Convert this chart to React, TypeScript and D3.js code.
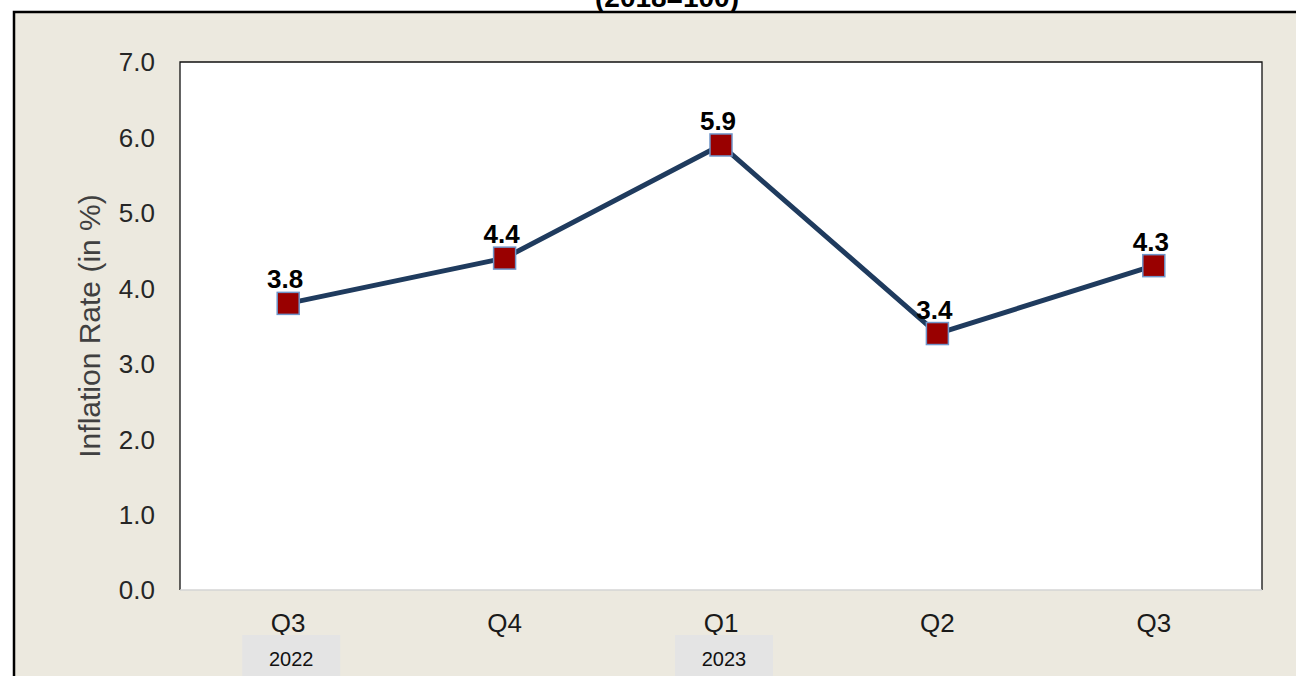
import React from 'react';
import * as d3 from 'd3';

const quarters = ['Q3', 'Q4', 'Q1', 'Q2', 'Q3'];
const inflation = [3.8, 4.4, 5.9, 3.4, 4.3];
const yearLabels = [
  { index: 0, year: '2022' },
  { index: 2, year: '2023' },
];
const yTicks = [0, 1, 2, 3, 4, 5, 6, 7];

const W = 1296;
const H = 676;
const plot = { left: 180, top: 62, right: 1262, bottom: 590 };
const font = '"Liberation Sans", Arial, sans-serif';

const App: React.FC = () => {
  const x = d3.scaleBand<number>()
    .domain(quarters.map((_, i) => i))
    .range([plot.left, plot.right])
    .padding(0);
  const y = d3.scaleLinear().domain([0, 7]).range([plot.bottom, plot.top]);
  const cx = (i: number) => (x(i) as number) + x.bandwidth() / 2;

  const line = d3.line<number>()
    .x((_, i) => cx(i))
    .y(d => y(d));

  return (
    <div style={{ position: 'absolute', left: 0, top: 0 }}>
      <svg width={W} height={H} style={{ display: 'block', fontFamily: font }}>
        <rect x={0} y={0} width={W} height={H} fill="#ffffff" />
        <text x={667} y={7} textAnchor="middle" fontSize={28} fontWeight="bold" fill="#000">(2018=100)</text>
        {/* outer frame */}
        <rect x={14} y={12} width={W + 20} height={H + 20} fill="#ece9df" stroke="#000" strokeWidth={2.5} />

        {/* plot area */}
        <rect x={plot.left} y={plot.top} width={plot.right - plot.left} height={plot.bottom - plot.top} fill="#fff" />
        <path
          d={`M${plot.left},${plot.bottom}V${plot.top}H${plot.right}V${plot.bottom}`}
          fill="none" stroke="#111" strokeWidth={1.3}
        />
        <line x1={plot.left} x2={plot.right} y1={plot.bottom} y2={plot.bottom} stroke="#d4d4d4" strokeWidth={1.5} />

        {/* y axis */}
        {yTicks.map(t => (
          <text key={t} x={155} y={y(t)} dy="0.36em" textAnchor="end" fontSize={26} fill="#262626">
            {t.toFixed(1)}
          </text>
        ))}
        <text
          transform={`translate(100,${(plot.top + plot.bottom) / 2}) rotate(-90)`}
          textAnchor="middle" fontSize={30} fill="#404040"
        >
          Inflation Rate (in %)
        </text>

        {/* x axis */}
        {quarters.map((q, i) => (
          <text key={i} x={cx(i)} y={632} textAnchor="middle" fontSize={26} fill="#1a1a1a">{q}</text>
        ))}
        {yearLabels.map(d => (
          <g key={d.year}>
            <rect x={cx(d.index) - 46} y={635} width={98} height={60} fill="#e4e4e4" />
            <text x={cx(d.index) + 3} y={666} textAnchor="middle" fontSize={20} fill="#111">{d.year}</text>
          </g>
        ))}

        {/* series */}
        <path d={line(inflation) || ''} fill="none" stroke="#1f3b5e" strokeWidth={5} strokeLinejoin="round" />
        {inflation.map((v, i) => (
          <g key={i}>
            <rect x={cx(i) - 11} y={y(v) - 11} width={22} height={22} fill="#990000" stroke="#6f95c9" strokeWidth={1.5} />
            <text x={cx(i) - 3} y={y(v) - 15} textAnchor="middle" fontSize={26} fontWeight="bold" fill="#000">
              {v.toFixed(1)}
            </text>
          </g>
        ))}
      </svg>
    </div>
  );
};

export default App;
